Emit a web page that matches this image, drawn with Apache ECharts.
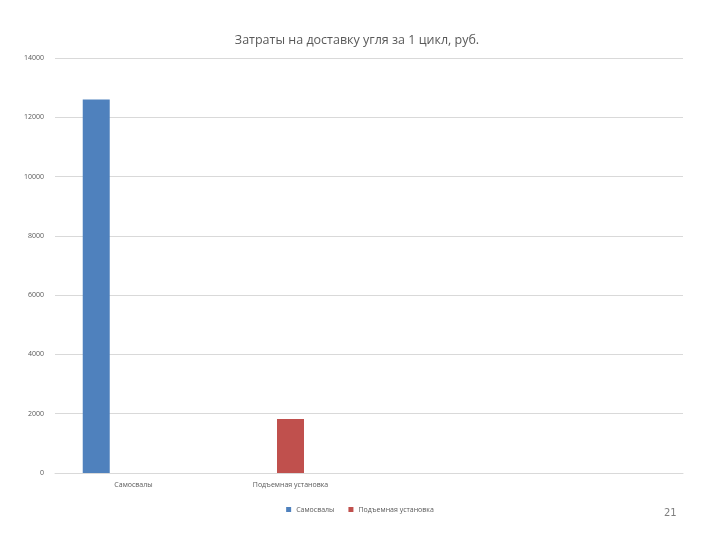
<!DOCTYPE html>
<html>
<head>
<meta charset="utf-8">
<script src="https://cdn.jsdelivr.net/npm/echarts@6/dist/echarts.min.js"></script>
<style>html,body{margin:0;padding:0;background:#fff;}#c{width:720px;height:540px;}</style>
</head>
<body>
<div id="c"></div>
<script>
var categories = ["Самосвалы", "Подъемная установка", "", ""];
var seriesNames = ["Самосвалы", "Подъемная установка"];
var samosvaly = [12600, null, null, null];
var podyemnaya = [null, 1820, null, null];
var emptySlot = [null, null, null, null];
var yTicks = [0, 2000, 4000, 6000, 8000, 10000, 12000, 14000];
var titleText = "Затраты на доставку угля за 1 цикл, руб.";
var pageNumber = "21";

var chart = echarts.init(document.getElementById('c'));
chart.setOption({
  animation: false,
  backgroundColor: '#ffffff',
  title: {
    text: titleText,
    left: 352, top: 29, textAlign: 'center',
    textStyle: {fontFamily: 'Open Sans', fontSize: 12.5, fontWeight: 'normal', color: '#595959'}
  },
  graphic: [{
    type: 'text', left: 664, top: 508,
    style: {text: pageNumber, fontFamily: 'DejaVu Sans', fontSize: 10, fill: '#7f7f7f'}
  }],
  legend: {
    data: seriesNames,
    left: 'center', top: 501,
    itemWidth: 5, itemHeight: 5, itemGap: 14,
    icon: 'rect',
    textStyle: {fontFamily: 'Open Sans', fontSize: 7, color: '#595959'}
  },
  grid: {left: 55, right: 37, top: 58, bottom: 67, containLabel: false},
  xAxis: {
    type: 'category',
    data: categories,
    axisLine: {show: true, lineStyle: {color: '#d9d9d9'}},
    axisTick: {show: false},
    axisLabel: {interval: 0, margin: 8, fontFamily: 'Open Sans', fontSize: 7, color: '#595959'}
  },
  yAxis: {
    type: 'value',
    min: yTicks[0], max: yTicks[yTicks.length - 1], interval: 2000,
    axisLine: {show: false},
    axisTick: {show: false},
    axisLabel: {margin: 11, fontFamily: 'Open Sans', fontSize: 7, color: '#595959',
      formatter: function (v) { return String(v); }},
    splitLine: {lineStyle: {color: '#d9d9d9'}}
  },
  series: [
    {name: seriesNames[0], type: 'bar', data: samosvaly, barWidth: 27, barGap: '38%', itemStyle: {color: '#4f81bd'}},
    {name: seriesNames[1], type: 'bar', data: podyemnaya, barWidth: 27, barGap: '38%', itemStyle: {color: '#c0504d'}},
    {name: '_', type: 'bar', data: emptySlot, barWidth: 27, barGap: '38%', itemStyle: {color: '#9bbb59'}}
  ]
});
</script>
</body>
</html>
